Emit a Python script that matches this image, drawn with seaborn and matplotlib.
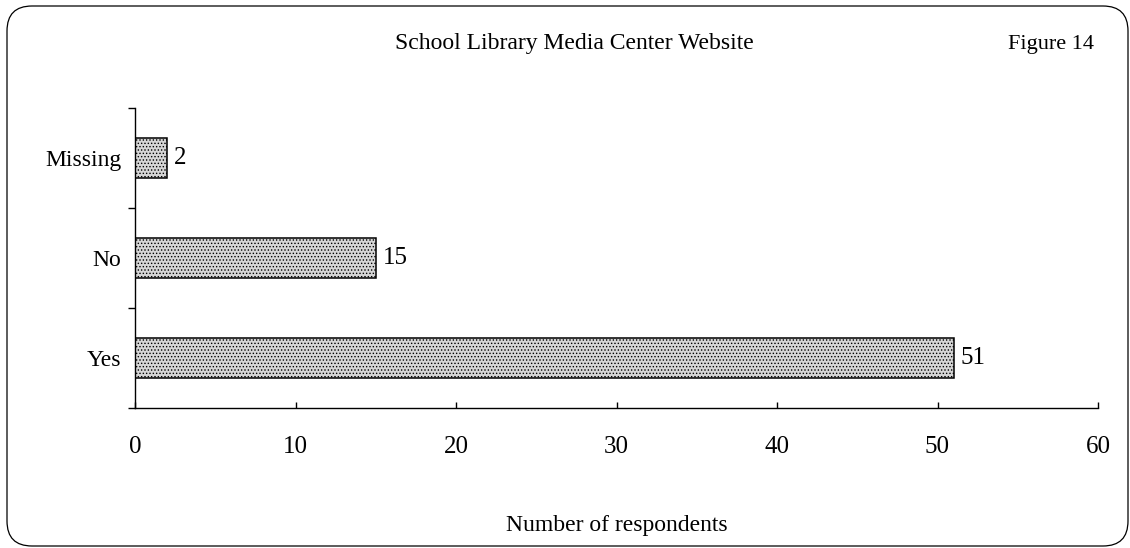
import matplotlib
matplotlib.use("Agg")
import matplotlib.pyplot as plt
import seaborn as sns
import pandas as pd
from matplotlib.patches import FancyBboxPatch
from matplotlib.ticker import FixedLocator

categories = ["Missing", "No", "Yes"]
values = [2, 15, 51]
xticks = [0, 10, 20, 30, 40, 50, 60]
title = "School Library Media Center Website"
fig_label = "Figure 14"
xlabel = "Number of respondents"

sns.set_style("white")
plt.rcParams["font.family"] = ["Liberation Serif", "DejaVu Serif"]
plt.rcParams["text.color"] = "black"
plt.rcParams["axes.labelcolor"] = "black"
plt.rcParams["xtick.color"] = "black"
plt.rcParams["ytick.color"] = "black"
plt.rcParams["hatch.color"] = "#a2a2a2"
plt.rcParams["hatch.linewidth"] = 0.6

df = pd.DataFrame({"category": categories, "value": values})

fig = plt.figure(figsize=(11.3, 5.48), dpi=100)
ax = fig.add_axes([135/1130, 1 - 408/548, (1098 - 135)/1130, 300/548])

sns.barplot(data=df, x="value", y="category", order=categories, orient="h",
            width=0.4, color="#d6d6d6", edgecolor="black", linewidth=1.1,
            saturation=1, ax=ax)
for p in ax.patches:
    p.set_hatch(".....")

for i, v in enumerate(values):
    ax.text(v + 0.45, i, str(v), va="center", ha="left", fontsize=18)

ax.set_xlim(0, 60)
ax.set_ylim(2.5, -0.5)
ax.set_xticks(xticks)
ax.set_xticklabels([str(t) for t in xticks], fontsize=18)
ax.tick_params(axis="x", bottom=True, direction="in", length=4, width=1, pad=20)
ax.yaxis.set_minor_locator(FixedLocator([-0.5, 0.5, 1.5, 2.5]))
ax.tick_params(axis="y", which="major", length=0, pad=10, labelsize=17)
ax.tick_params(axis="y", which="minor", direction="out", length=5, width=1, left=True)
ax.set_ylabel("")
ax.set_xlabel(xlabel, fontsize=17, labelpad=41)

for s in ["top", "right"]:
    ax.spines[s].set_visible(False)
for s in ["left", "bottom"]:
    ax.spines[s].set_color("black")
    ax.spines[s].set_linewidth(1)

fig.text(574/1130, 1 - 43/548, title, ha="center", va="center", fontsize=17)
fig.text(1051/1130, 1 - 45/548, fig_label, ha="center", va="center", fontsize=16)

box = FancyBboxPatch((0.07, 0.02), 11.21, 5.40, boxstyle="round,pad=0,rounding_size=0.25",
                     transform=fig.dpi_scale_trans, fill=False, edgecolor="black", linewidth=0.9)
fig.patches.append(box)

fig.savefig("out.png", dpi=100)
